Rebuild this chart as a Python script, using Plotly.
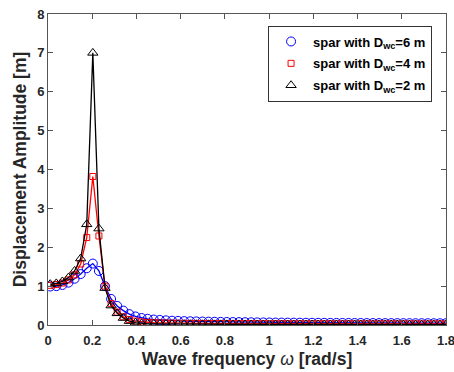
import numpy as np
import plotly.graph_objects as go

# Frequency grid (rad/s)
omega = np.linspace(0.01, 1.8, 66)

amp_dwc6 = [0.99,1.00,1.03,1.09,1.19,1.31,1.46,1.58,1.39,1.00,0.67,0.49,0.37,0.28,0.22,0.18,0.16,
            0.14,0.13,0.12,0.11,0.105,0.10,0.095,0.092,0.089,0.086,0.083,0.080,0.078,0.076,0.074,0.072,
            0.070,0.068,0.066,0.065,0.063,0.062,0.061,0.060,0.059,0.058,0.057,0.056,0.055,0.054,
            0.053,0.053,0.052,0.051,0.051,0.050,0.050,0.049,0.049,0.048,0.048,0.047,0.047,0.046,
            0.046,0.046,0.045,0.045,0.045]
amp_dwc4 = [1.02,1.04,1.08,1.16,1.29,1.57,2.25,3.82,2.29,1.00,0.55,0.33,0.21,0.14,0.10,0.08,0.065,
            0.058,0.053,0.050,0.047,0.045,0.043,0.042,0.041,0.040,0.039,0.038,0.037,0.037,0.036,
            0.036,0.035,0.035,0.035,0.034,0.034,0.034,0.033,0.033,0.033,0.033,0.032,0.032,0.032,
            0.032,0.032,0.031,0.031,0.031,0.031,0.031,0.031,0.030,0.030,0.030,0.030,0.030,0.030,
            0.030,0.030,0.029,0.029,0.029,0.029,0.029]
amp_dwc2 = [1.05,1.07,1.12,1.22,1.39,1.71,2.59,7.00,2.48,0.95,0.50,0.30,0.18,0.10,0.06,0.04,0.03,
            0.028,0.026,0.024,0.022,0.021,0.020,0.019,0.018,0.017,0.017,0.016,0.016,0.015,0.015,
            0.015,0.014,0.014,0.014,0.013,0.013,0.013,0.013,0.012,0.012,0.012,0.012,0.012,0.011,
            0.011,0.011,0.011,0.011,0.011,0.010,0.010,0.010,0.010,0.010,0.010,0.010,0.010,0.010,
            0.009,0.009,0.009,0.009,0.009,0.009,0.009]

x_ticks = [0, 0.2, 0.4, 0.6, 0.8, 1, 1.2, 1.4, 1.6, 1.8]
x_ticklabels = ["0", "0.2", "0.4", "0.6", "0.8", "1", "1.2", "1.4", "1.6", "1.8"]
y_ticks = [0, 1, 2, 3, 4, 5, 6, 7, 8]

names = ["spar with D<sub>wc</sub>=6 m", "spar with D<sub>wc</sub>=4 m", "spar with D<sub>wc</sub>=2 m"]
series = [amp_dwc6, amp_dwc4, amp_dwc2]
colors = ["#0000ff", "#ff0000", "#000000"]
symbols = ["circle-open", "square-open", "triangle-up-open"]
msizes = [9, 6, 9]

fig = go.Figure()
for i, (y, c, s, ms, n) in enumerate(zip(series, colors, symbols, msizes, names)):
    fig.add_trace(go.Scatter(x=omega, y=y, mode="lines", line=dict(color=c, width=1.3),
                             showlegend=False, hoverinfo="skip", legendgroup=f"g{i}"))
    fig.add_trace(go.Scatter(x=omega, y=y, mode="markers", name=n, legendgroup=f"g{i}",
                             marker=dict(symbol=s, size=ms, color=c, line=dict(color=c, width=1))))

axis_common = dict(showline=True, linecolor="#555555", linewidth=1, mirror="ticks",
                   ticks="inside", ticklen=5, tickcolor="#555555", showgrid=False, zeroline=False,
                   automargin=False, ticklabeloverflow="allow",
                   tickfont=dict(family="Arial, Liberation Sans", size=13, color="#262626", weight="bold"))

fig.update_layout(
    width=454, height=372,
    margin=dict(l=48, r=8, t=14, b=47),
    paper_bgcolor="white", plot_bgcolor="white",
    font=dict(family="Arial, Liberation Sans", color="#262626"),
    xaxis=dict(range=[0, 1.8], tickvals=x_ticks, ticktext=x_ticklabels, ticklabelstandoff=3,
               title=dict(text="Wave frequency <span style='font-weight:normal;font-style:italic'>ω</span> [rad/s]",
                          font=dict(size=17.5, weight="bold", color="#262626"), standoff=6),
               **axis_common),
    yaxis=dict(range=[0, 8], tickvals=y_ticks,
               title=dict(text="Displacement Amplitude [m]",
                          font=dict(size=17.5, weight="bold", color="#262626"), standoff=6),
               **axis_common),
    legend=dict(x=0.965, xanchor="right", y=0.963, yanchor="top", tracegroupgap=2, itemwidth=34,
                bordercolor="#333333", borderwidth=1, bgcolor="white",
                font=dict(family="Arial, Liberation Sans", size=13, color="#000000", weight="bold")),
)

fig.write_html("out.html", config={"displayModeBar": False},
               post_script="document.body.style.margin='0';")
